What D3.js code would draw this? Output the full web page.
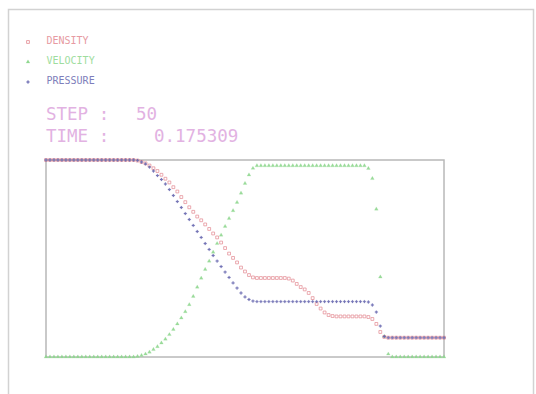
<!DOCTYPE html>
<html>
<head>
<meta charset="utf-8">
<script src="https://cdn.jsdelivr.net/npm/d3@7"></script>
<style>
  html, body { margin: 0; padding: 0; background: #ffffff; }
  svg { display: block; }
</style>
</head>
<body>
<div id="chart"></div>
<script>
// ---- data (normalised values; 101 grid cells) ----
const density = [
  1,1,1,1,1,1,1,1,1,1,1,1,1,1,1,1,1,1,1,1,1,1,1,
  0.997,0.99,0.983,0.972,0.958,0.944,0.925,0.905,0.886,0.862,0.84,0.812,0.786,0.76,0.737,0.713,0.694,0.673,0.65,0.627,0.607,0.581,0.553,0.525,0.503,0.48,0.454,0.434,0.416,0.404,
  0.401,0.401,0.401,0.401,0.401,0.401,0.401,0.401,
  0.398,0.388,0.371,0.355,0.343,0.325,0.299,0.269,0.246,0.226,0.213,0.208,
  0.206,0.206,0.206,0.206,0.206,0.206,0.206,0.206,
  0.203,0.193,0.168,0.127,0.102,
  0.098,0.098,0.098,0.098,0.098,0.098,0.098,0.098,0.098,0.098,0.098,0.098,0.098,0.098,0.098
];
const velocity = [
  0,0,0,0,0,0,0,0,0,0,0,0,0,0,0,0,0,0,0,0,0,0,0,
  0.003,0.008,0.015,0.025,0.038,0.053,0.071,0.091,0.114,0.14,0.168,0.198,0.23,0.266,0.308,0.355,0.4,0.445,0.487,0.532,0.576,0.619,0.663,0.703,0.743,0.785,0.832,0.881,0.924,0.958,
  0.971,0.971,0.971,0.971,0.971,0.971,0.971,0.971,0.971,0.971,0.971,0.971,0.971,0.971,
  0.971,0.971,0.971,0.971,0.971,0.971,0.971,0.971,0.971,0.971,0.971,0.971,0.971,0.971,
  0.957,0.906,0.751,0.406,
  0.105,0.015,
  0,0,0,0,0,0,0,0,0,0,0,0,0,0
];
const pressure = [
  1,1,1,1,1,1,1,1,1,1,1,1,1,1,1,1,1,1,1,1,1,1,1,
  0.998,0.99,0.98,0.964,0.944,0.921,0.901,0.878,0.85,0.82,0.789,0.759,0.728,0.698,0.668,0.637,0.607,0.576,0.546,0.515,0.487,0.459,0.431,0.404,0.376,0.35,0.325,0.305,0.292,0.284,
  0.281,0.281,0.281,0.281,0.281,0.281,0.281,0.281,0.281,0.281,0.281,0.281,0.281,0.281,
  0.281,0.281,0.281,0.281,0.281,0.281,0.281,0.281,0.281,0.281,0.281,0.281,0.281,0.281,
  0.279,0.264,0.228,0.157,0.104,
  0.098,0.098,0.098,0.098,0.098,0.098,0.098,0.098,0.098,0.098,0.098,0.098,0.098,0.098,0.098
];
const seriesNames = ["DENSITY", "VELOCITY", "PRESSURE"];
const stepLabel = "STEP :";
const stepValue = "50";
const timeLabel = "TIME :";
const timeValue = "0.175309";

// ---- layout ----
const W = 536, H = 394;
const box = { left: 46, right: 444, top: 160, bottom: 357 };
const colors = { DENSITY: "#e38a92", VELOCITY: "#8ed88e", PRESSURE: "#6868b0" };
const textPink = "#e2b2e2";

const svg = d3.select("#chart").append("svg")
  .attr("width", W).attr("height", H);

// outer frame
svg.append("rect")
  .attr("x", 8.5).attr("y", 9.5).attr("width", 525).attr("height", 420)
  .attr("fill", "none").attr("stroke", "#d2d2d2").attr("stroke-width", 1.5);

const n = density.length;
const x = d3.scaleLinear().domain([0, n - 1]).range([box.left, box.right]);
const y = d3.scaleLinear().domain([0, 1]).range([box.bottom, box.top]);

// plot box
svg.append("rect")
  .attr("x", box.left).attr("y", box.top)
  .attr("width", box.right - box.left).attr("height", box.bottom - box.top)
  .attr("fill", "none").attr("stroke", "#b8b8b8").attr("stroke-width", 1.5);

// marker generators
const sq = d3.symbol().type(d3.symbolSquare).size(8);
const tri = d3.symbol().type(d3.symbolTriangle).size(6);
const plus = d3.symbol().type(d3.symbolCross).size(4.5);

function drawSeries(values, name, gen, filled) {
  svg.append("g").selectAll("path")
    .data(values)
    .join("path")
    .attr("transform", (d, i) => `translate(${x(i)},${y(d)})`)
    .attr("d", gen())
    .attr("fill", filled ? colors[name] : "none")
    .attr("stroke", colors[name])
    .attr("stroke-width", filled ? 0.2 : 0.8)
    .attr("opacity", 0.9);
}
drawSeries(velocity, "VELOCITY", tri, true);
drawSeries(density, "DENSITY", sq, false);
drawSeries(pressure, "PRESSURE", plus, true);

// legend
const legendGens = { DENSITY: sq, VELOCITY: tri, PRESSURE: plus };
const legend = svg.append("g");
seriesNames.forEach((name, k) => {
  const ly = 42 + k * 20;
  legend.append("path")
    .attr("transform", `translate(28,${ly})`)
    .attr("d", legendGens[name]())
    .attr("fill", name === "DENSITY" ? "none" : colors[name])
    .attr("stroke", colors[name])
    .attr("stroke-width", name === "DENSITY" ? 0.8 : 0.2);
  legend.append("text")
    .attr("x", 46.5).attr("y", ly + 2)
    .attr("font-family", "DejaVu Sans Mono, monospace")
    .attr("font-size", 10)
    .attr("fill", colors[name])
    .attr("opacity", 0.85)
    .text(name);
});

// step / time
const info = svg.append("g")
  .attr("font-family", "DejaVu Sans Mono, monospace")
  .attr("font-size", 17.5)
  .attr("fill", textPink);
info.append("text").attr("x", 46).attr("y", 120).text(stepLabel);
info.append("text").attr("x", 136).attr("y", 120).text(stepValue);
info.append("text").attr("x", 46).attr("y", 141.5).text(timeLabel);
info.append("text").attr("x", 154).attr("y", 141.5).text(timeValue);
</script>
</body>
</html>
